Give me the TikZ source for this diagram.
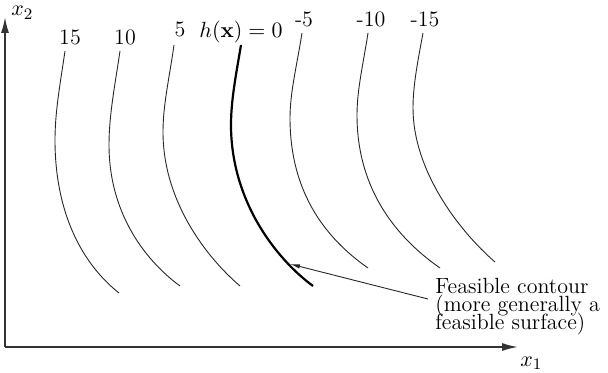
\documentclass[tikz,border=0pt]{standalone}
\usetikzlibrary{arrows.meta}
\begin{document}
\begin{tikzpicture}[x=0.5pt,y=-0.5pt,
  contour/.style={line width=0.45pt, black!85},
  feasible/.style={line width=1.1pt, black},
  axis/.style={line width=0.8pt, black!80, -{Latex[length=8pt,width=4pt]}},
  lbl/.style={anchor=base, inner sep=0pt, font=\fontsize{11}{13}\selectfont},
  ptr/.style={line width=0.45pt, black!85, -{Latex[length=5pt,width=2.2pt]}}]
\useasboundingbox (0,0) rectangle (608,373);
\lineskiplimit=-20pt\relax
% axes
\coordinate (O) at (5,347);
\coordinate (Y) at (5,17);
\coordinate (X) at (518,347);
\draw[axis] (O) -- (Y);
\draw[axis] (O) -- (X);
\node[lbl, anchor=base west] (x2) at (11,16) {$x_2$};
\node[lbl, anchor=base west] (x1) at (520,366) {$x_1$};
% contours
\draw[contour] (65,51) .. controls (60,85) and (55,112) .. (55,140)
  .. controls (55,210) and (80,262) .. (119,293);
\draw[contour] (120,51) .. controls (115,85) and (109,115) .. (109,145)
  .. controls (109,210) and (142,258) .. (180,286);
\draw[contour] (174,45) .. controls (169,80) and (163,105) .. (163,132)
  .. controls (163,200) and (205,256) .. (240,286);
\draw[feasible] (241,45) .. controls (236,75) and (231,100) .. (231,125)
  .. controls (231,200) and (275,258) .. (313,286);
\draw[contour] (302,33) .. controls (297,65) and (290,92) .. (290,118)
  .. controls (290,195) and (328,240) .. (368,268);
\draw[contour] (368,33) .. controls (363,65) and (357,90) .. (357,115)
  .. controls (357,190) and (397,238) .. (440,268);
\draw[contour] (423,33) .. controls (418,60) and (413,85) .. (413,108)
  .. controls (413,170) and (458,230) .. (495,262);
% labels
\node[lbl] (l15) at (70,45) {15};
\node[lbl] (l10) at (125,45) {10};
\node[lbl] (l5) at (180,37) {5};
\node[lbl] (l0) at (241,38) {$h(\mathbf{x})=0$};
\node[lbl] (lm5) at (304,27) {-5};
\node[lbl] (lm10) at (371,27) {-10};
\node[lbl] (lm15) at (425,27) {-15};
% annotation
\node[anchor=north west, inner sep=0pt, align=left,
  font=\fontsize{11}{8.85}\selectfont] (fc) at (435,278)
  {Feasible contour\\(more generally a\\feasible surface)};
\coordinate (src) at (428,299);
\coordinate (tip) at (290,264);
\draw[ptr] (src) -- (tip);
\end{tikzpicture}
\end{document}
